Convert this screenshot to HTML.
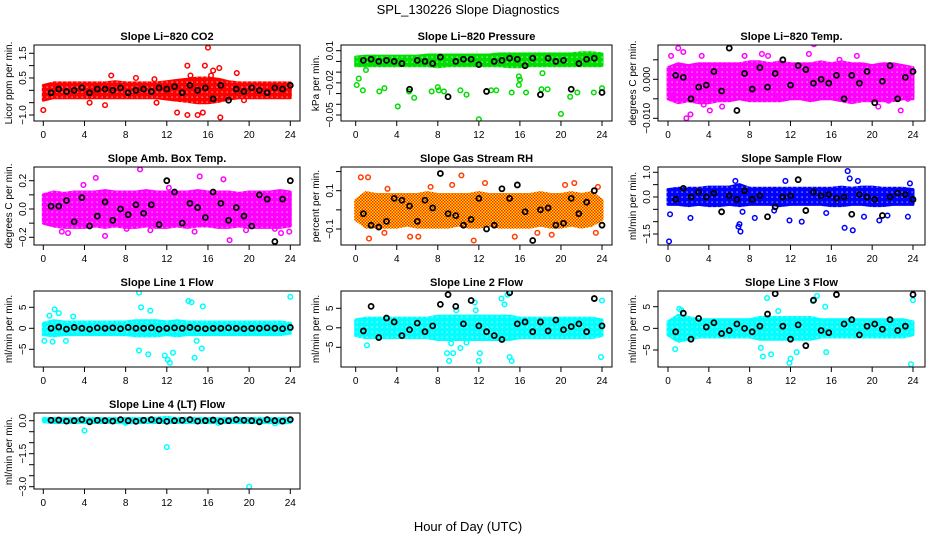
<!DOCTYPE html>
<html><head><meta charset="utf-8">
<style>
html,body{margin:0;padding:0;background:#fff;}
svg{display:block;font-family:"Liberation Sans",Arial,sans-serif;}
</style></head>
<body>
<svg id="chart" width="936" height="540" viewBox="0 0 936 540">
<defs id="defs">
<pattern id="rhpat" width="3" height="3" patternUnits="userSpaceOnUse">
<rect width="3" height="3" fill="#ffe600"/>
<rect width="1.5" height="1.5" fill="#ff2000"/>
<rect x="1.5" y="1.5" width="1.5" height="1.5" fill="#ff2000"/>
</pattern>
</defs>
<text x="468" y="14" text-anchor="middle" font-size="13">SPL_130226  Slope Diagnostics</text>
<text x="468" y="531" text-anchor="middle" font-size="13">Hour of Day (UTC)</text>
</svg>
<script>
// ---- shared data ----
const blackTimes = [0.75,1.5,2.25,3,3.75,4.5,5.25,6,6.75,7.5,8.25,9,9.75,10.5,11.25,12,12.75,13.5,14.25,15,15.75,16.5,17.25,18,18.75,19.5,20.25,21,21.75,22.5,23.25,24];
const bandHours = [0,1,2,3,4,5,6,7,8,9,10,11,12,13,14,15,16,17,18,19,20,21,22,23,24];
const xTicks = [0,4,8,12,16,20,24];

// ---- panel 1: CO2 ----
const co2Black = [-0.1,0.05,-0.05,0,0.1,-0.1,0.05,0.05,0,0.1,-0.1,0.0,0.05,-0.05,0.1,0.05,0.15,-0.1,0.2,0.0,0.1,-0.35,0.2,-0.4,0.05,-0.05,0.1,0.0,-0.1,0.1,0.05,0.2];
const co2Lo = [-0.4,-0.3,-0.3,-0.3,-0.3,-0.3,-0.3,-0.3,-0.3,-0.3,-0.3,-0.3,-0.35,-0.4,-0.45,-0.5,-0.5,-0.45,-0.35,-0.3,-0.3,-0.3,-0.3,-0.3,-0.3];
const co2Hi = [0.2,0.3,0.3,0.3,0.3,0.3,0.3,0.35,0.3,0.3,0.3,0.3,0.35,0.4,0.45,0.5,0.5,0.45,0.35,0.3,0.3,0.3,0.3,0.3,0.3];
const co2OutX = [0,6.6,9,10.8,11,13,14,14,14.3,15,15.5,15.7,16,16.3,16.5,17.1,17.2,18.8,6,4.5,19.5];
const co2OutY = [-0.8,0.6,0.5,0.45,-0.5,-0.9,1.0,-1.0,0.6,-1.0,-0.9,1.0,1.73,0.6,0.8,0.9,-1.1,0.7,-0.6,-0.5,-0.4];
// ---- panel 2: pressure ----
const prBlack = [0.001,0.002,0.000,0.001,0.000,-0.002,-0.026,0.001,0.000,-0.002,0.004,-0.033,0.000,0.002,0.002,-0.003,-0.028,0.000,0.001,0.003,0.002,-0.004,0.003,-0.031,0.003,0.000,0.001,-0.026,-0.002,0.002,0.003,-0.029];
const prLo = [-0.004,-0.004,-0.004,-0.004,-0.004,-0.004,-0.004,-0.004,-0.005,-0.004,-0.004,-0.004,-0.004,-0.004,-0.004,-0.005,-0.005,-0.004,-0.004,-0.004,-0.004,-0.004,-0.004,-0.004,-0.004];
const prHi = [0.004,0.005,0.005,0.005,0.005,0.005,0.005,0.006,0.006,0.006,0.006,0.006,0.006,0.006,0.007,0.007,0.007,0.007,0.007,0.007,0.007,0.007,0.008,0.008,0.007];
const prOutX = [0.1,0.3,0.7,2.3,2.8,4.1,5.2,5.7,7.4,8,8.1,8.6,10.2,10.8,12,13.2,13.7,15.2,15.9,16.6,18.1,18.7,20,20.9,21.6,23.2,24,1,15.9,16,18.2];
const prOutY = [-0.022,-0.016,-0.027,-0.028,-0.025,-0.042,-0.028,-0.034,-0.028,-0.024,-0.027,-0.028,-0.027,-0.031,-0.054,-0.027,-0.027,-0.029,-0.022,-0.029,-0.026,-0.026,-0.049,-0.033,-0.029,-0.029,-0.025,-0.008,-0.014,-0.017,-0.011];
// ---- panel 3: Li-820 temp ----
const ltBlack = [0.001,0.0005,-0.005,-0.002,-0.0015,0.002,-0.003,0.008,-0.008,0.0015,-0.0025,0.003,-0.002,0.0015,0.005,-0.0015,0.0035,0.0025,-0.001,0.0,-0.001,0.001,-0.005,0.001,-0.001,0.002,-0.006,-0.0005,0.0035,-0.005,0.0005,0.002];
const ltLo = [-0.005,-0.006,-0.0055,-0.006,-0.006,-0.0055,-0.0055,-0.005,-0.0055,-0.0055,-0.0055,-0.0055,-0.005,-0.005,-0.0055,-0.005,-0.005,-0.0055,-0.006,-0.0055,-0.0055,-0.0055,-0.0055,-0.005,-0.005];
const ltHi = [0.003,0.004,0.0035,0.004,0.004,0.004,0.004,0.004,0.0045,0.0045,0.004,0.0045,0.004,0.004,0.004,0.0045,0.004,0.0045,0.004,0.004,0.0035,0.004,0.004,0.0035,0.003];
const ltOutX = [1,1.5,0.3,3.3,14.3,9.8,7.5,1.8,2.2,4.1,5.3,22.8,18.5,20.6,3.5,10.5,13.8,16.8,21.6,0.5,9.2,23.5];
const ltOutY = [0.008,0.007,0.006,0.006,0.009,0.006,0.006,-0.010,-0.009,-0.008,-0.007,-0.008,0.006,-0.007,-0.0065,-0.005,0.0065,0.005,-0.0055,-0.004,0.0065,-0.005];
// ---- panel 4: amb box temp ----
const abBlack = [0.02,0.02,0.06,-0.09,0.08,-0.12,-0.05,0.05,-0.08,0.0,-0.04,0.03,-0.03,0.03,-0.11,0.2,0.12,-0.1,0.04,0.01,-0.06,0.12,0.04,-0.08,0.01,-0.05,-0.12,0.1,0.07,-0.23,0.07,0.2];
const abLo = [-0.1,-0.12,-0.13,-0.13,-0.13,-0.12,-0.13,-0.12,-0.13,-0.13,-0.12,-0.13,-0.13,-0.12,-0.13,-0.12,-0.12,-0.13,-0.13,-0.12,-0.13,-0.13,-0.13,-0.13,-0.12];
const abHi = [0.1,0.12,0.11,0.12,0.12,0.12,0.13,0.12,0.12,0.12,0.13,0.12,0.12,0.12,0.12,0.13,0.12,0.12,0.12,0.11,0.12,0.12,0.12,0.13,0.12];
const abOutX = [5.1,9.4,15.2,17.5,2.4,1.8,6.0,8.1,14.7,18.1,22.5,23.9,23.1,12.2,19.7,3.9,10.4];
const abOutY = [0.22,0.28,0.23,0.21,-0.17,-0.16,-0.19,-0.14,-0.16,-0.22,-0.14,-0.16,-0.17,0.15,-0.15,0.17,-0.15];
// ---- panel 5: gas stream RH ----
const rhBlack = [-0.02,-0.08,-0.09,-0.06,0.06,0.05,0.02,-0.06,0.05,0.01,0.19,-0.02,-0.03,-0.08,-0.05,0.06,-0.1,-0.08,0.11,0.06,0.13,-0.01,-0.16,0.0,0.01,-0.08,-0.07,0.06,-0.02,0.04,0.1,-0.08];
const rhLo = [-0.05,-0.09,-0.09,-0.09,-0.09,-0.08,-0.09,-0.09,-0.09,-0.09,-0.08,-0.09,-0.09,-0.08,-0.09,-0.09,-0.09,-0.09,-0.08,-0.09,-0.09,-0.08,-0.09,-0.08,-0.05];
const rhHi = [0.05,0.09,0.08,0.08,0.08,0.08,0.08,0.09,0.08,0.08,0.08,0.08,0.09,0.08,0.08,0.08,0.08,0.08,0.09,0.08,0.08,0.09,0.08,0.09,0.05];
const rhOutX = [0.5,1.2,1.3,2.8,5.3,6.1,9.4,10.3,11.5,12.6,15.5,17.7,19.1,20.4,21.3,23.4,23.6,3.1,7.3];
const rhOutY = [0.17,0.17,-0.15,-0.12,-0.14,-0.14,0.13,0.18,-0.16,0.14,-0.14,-0.12,-0.13,0.13,0.14,-0.12,0.12,0.11,0.12];
// ---- panel 6: sample flow ----
const sfBlack = [-0.1,0.35,0.0,0.2,0.0,0.15,-0.6,0.05,-0.1,0.25,-0.1,0.05,-0.8,-0.4,0.0,0.05,0.7,-0.55,0.2,0.05,0.1,-0.05,0.0,-0.7,0.1,0.0,-0.1,-0.75,0.0,0.15,0.1,-0.1];
const sfLo = [-0.3,-0.3,-0.35,-0.3,-0.35,-0.35,-0.3,-0.35,-0.3,-0.3,-0.3,-0.35,-0.3,-0.3,-0.3,-0.3,-0.35,-0.35,-0.3,-0.3,-0.35,-0.35,-0.3,-0.3,-0.3];
const sfHi = [0.3,0.35,0.35,0.35,0.4,0.4,0.4,0.5,0.35,0.35,0.35,0.35,0.35,0.35,0.35,0.35,0.35,0.4,0.35,0.4,0.4,0.35,0.35,0.35,0.3];
const sfOutX = [0.1,0.2,2.2,7,7.1,6.9,7.3,8.5,10.4,11.9,13.1,15.5,17.3,17.6,18.1,17.8,18.6,19.2,20.7,21.5,23.5,23.7,6.6,11.5];
const sfOutY = [-1.8,-0.7,-0.85,-1.1,-1.4,-1.2,-0.6,-0.85,-0.55,-0.95,-1.0,-0.65,-1.25,1.05,-1.35,0.75,0.65,-0.8,-0.95,-0.75,-0.8,0.55,0.65,0.65];
// ---- panel 7: line 1 flow ----
const l1Black = [0,0.3,-0.2,0.2,0,-0.2,0.1,0,0.1,-0.1,0.2,0,0,0.1,-0.2,0,0.1,0,0.2,0,-0.1,0,0,0.1,0,-0.1,0,0,0.1,0,-0.1,0.2];
const l1Lo = [-1.5,-1.8,-1.5,-1.5,-1.5,-1.5,-1.5,-1.5,-1.5,-1.8,-1.8,-1.8,-1.5,-1.8,-1.5,-1.5,-1.5,-1.5,-1.5,-1.5,-1.5,-1.5,-1.5,-1.5,-1.2];
const l1Hi = [1.2,1.8,1.5,1.5,1.5,1.5,1.5,1.5,1.5,1.8,1.8,1.8,1.5,1.8,1.5,1.5,1.5,1.5,1.5,1.5,1.5,1.5,1.5,1.5,1.2];
const l1OutX = [0.1,0.9,1.1,1.5,0.6,2.2,9.3,9.5,9.3,10.2,10.4,12.1,12.3,11.8,12.6,14.1,14.4,14.9,14.7,15.5,15.4,24,2.9];
const l1OutY = [-3,-3.2,4.5,3.6,3,-3,8.5,5,-5.3,-6.2,4.2,-7.5,-8.2,-6.5,-5.8,6.5,6.2,-3,-7,5.2,-4.8,7.5,2.8];
// ---- panel 8: line 2 flow ----
const l2Black = [-0.8,5.5,-2.5,2.5,1.5,-2,-0.5,1.2,-1,0.5,6,8.5,5.5,1,7,0.5,-1,-2,-3,9,1,1.5,-1,1.5,-0.8,2,-0.5,0.3,1,-1,7.5,0.5];
const l2Lo = [-2,-2.5,-2.5,-2.5,-2.5,-2.5,-2.5,-2.5,-3,-3,-3,-3,-3,-3,-3,-3,-2.5,-2.5,-2.5,-2.5,-2.5,-2.5,-2.5,-2.5,-2];
const l2Hi = [2,2.5,2.5,2.5,2.5,2.5,2.5,2.5,3,3,3,3,3,3,3,3,2.5,2.5,2.5,2.5,2.5,2.5,2.5,2.5,2];
const l2OutX = [1.1,8.9,9.1,9.3,9.5,10.2,10.8,11.6,12,12.1,11.7,14.2,14.5,15,15.2,14.8,24,23.9,9.8];
const l2OutY = [-4.5,-6.5,-8.5,-4,-6.5,-5.2,-3.8,6.5,-8.5,-6.5,4.5,7.5,6,-7.5,-8.5,8.5,7,-7.5,4.5];
// ---- panel 9: line 3 flow ----
const l3Black = [-0.8,3.5,-2.5,2.3,0.3,1.3,-1.2,-0.5,1,0,-0.8,0.5,3.3,8,0.5,-2.5,0.8,-4,6.5,-0.5,-1,7.8,1,2,-1.5,0.5,1,-0.2,2,-0.5,0.5,7.8];
const l3Lo = [-1.5,-3,-2.5,-2,-2,-2,-2,-2,-2,-2.5,-2.5,-2.5,-2.5,-2.5,-2.5,-2,-2,-2,-2,-2,-2,-2,-2,-2,-1.5];
const l3Hi = [1.5,3,2.5,2,2,2,2,2,2,2.5,2.5,2.5,2.5,2.5,2.5,2,2,2,2,2,2,2,2,2,1.5];
const l3OutX = [0.7,1.1,1.3,9.1,9.3,9.7,10.1,11.9,12,12.6,14.2,14.6,15.5,15.4,24,23.8,10.8];
const l3OutY = [-4.8,4.5,4.2,-4.5,-6.5,7,-6,-8,-7,-5.5,6.3,7.5,-5.5,5,6.5,-8.3,4];
// ---- panel 10: line 4 (LT) flow ----
const l4Black = [0.02,0.03,-0.02,0.0,0.05,-0.05,0.02,0.0,-0.02,0.05,0.0,-0.03,0.02,0.05,0.0,-0.03,0.0,0.02,0.05,-0.02,0.0,0.03,-0.03,0.0,0.05,0.02,0.0,-0.05,0.05,0.0,-0.02,0.05];
const l4Lo = [-0.05,-0.08,-0.08,-0.08,-0.08,-0.08,-0.08,-0.08,-0.1,-0.08,-0.08,-0.08,-0.08,-0.08,-0.08,-0.08,-0.08,-0.08,-0.08,-0.08,-0.08,-0.08,-0.08,-0.1,-0.08];
const l4Hi = [0.1,0.1,0.1,0.1,0.1,0.1,0.1,0.1,0.1,0.1,0.1,0.12,0.15,0.1,0.1,0.1,0.1,0.1,0.1,0.1,0.1,0.1,0.1,0.1,0.1];
const l4OutX = [4,12,20,8,17,22.5];
const l4OutY = [-0.45,-1.2,-3.0,-0.1,-0.1,-0.12];

// ---- layout (axis calibration) ----
const colBox = [[34,300,43.3,290.3],[341,612,355.7,602],[658,925,668,913]];
const rowBox = [[45,121],[167,245],[291,367],[413,489]];
const panels = [
 {name:'co2',title:'Slope Li\u2212820 CO2',ylab:'Licor ppm per min.',col:0,row:0,cal:[1.5,53.3,-1.0,115],ticks:[-1,-0.5,0,0.5,1,1.5],labels:{'1.5':'1.5','0.5':'0.5','-1':'\u22121.0'},color:'#ff0000',black:co2Black,lo:co2Lo,hi:co2Hi,ox:co2OutX,oy:co2OutY},
 {name:'pressure',title:'Slope Li\u2212820 Pressure',ylab:'kPa per min.',col:1,row:0,cal:[0.01,50.7,-0.05,115],ticks:[0.01,0,-0.01,-0.02,-0.03,-0.04,-0.05],labels:{'0.01':'0.01','-0.02':'\u22120.02','-0.05':'\u22120.05'},color:'#00dd00',black:prBlack,lo:prLo,hi:prHi,ox:prOutX,oy:prOutY},
 {name:'li820-temp',title:'Slope Li\u2212820 Temp.',ylab:'degrees C per min.',col:2,row:0,cal:[0,79.3,-0.01,118.3],ticks:[0.005,0,-0.005,-0.01],labels:{'0':'0.000','-0.01':'\u22120.010'},color:'#ff00ff',black:ltBlack,lo:ltLo,hi:ltHi,ox:ltOutX,oy:ltOutY},
 {name:'amb-box-temp',title:'Slope Amb. Box Temp.',ylab:'degrees C per min.',col:0,row:1,cal:[0.2,180.7,-0.2,237.3],ticks:[-0.2,-0.1,0,0.1,0.2],labels:{'0.2':'0.2','0':'0.0','-0.2':'\u22120.2'},color:'#ff00ff',black:abBlack,lo:abLo,hi:abHi,ox:abOutX,oy:abOutY},
 {name:'gas-stream-rh',title:'Slope Gas Stream RH',ylab:'percent per min.',col:1,row:1,cal:[0.1,190.7,-0.1,229],ticks:[0.2,0.1,0,-0.1],labels:{'0.1':'0.1','-0.1':'\u22120.1'},color:'#ff4000',rh:true,black:rhBlack,lo:rhLo,hi:rhHi,ox:rhOutX,oy:rhOutY},
 {name:'sample-flow',title:'Slope Sample Flow',ylab:'ml/min per min.',col:2,row:1,cal:[1.0,172.3,-1.5,234],ticks:[1,0.5,0,-0.5,-1,-1.5],labels:{'1':'1.0','0':'0.0','-1.5':'\u22121.5'},color:'#0000ff',black:sfBlack,lo:sfLo,hi:sfHi,ox:sfOutX,oy:sfOutY},
 {name:'line1-flow',title:'Slope Line 1 Flow',ylab:'ml/min per min.',col:0,row:2,cal:[5,307.3,-5,349.3],ticks:[5,0,-5],labels:{'5':'5','0':'0','-5':'\u22125'},color:'#00ffff',black:l1Black,lo:l1Lo,hi:l1Hi,ox:l1OutX,oy:l1OutY},
 {name:'line2-flow',title:'Slope Line 2 Flow',ylab:'ml/min per min.',col:1,row:2,cal:[5,308.3,-5,347.3],ticks:[5,0,-5],labels:{'5':'5','0':'0','-5':'\u22125'},color:'#00ffff',black:l2Black,lo:l2Lo,hi:l2Hi,ox:l2OutX,oy:l2OutY},
 {name:'line3-flow',title:'Slope Line 3 Flow',ylab:'ml/min per min.',col:2,row:2,cal:[5,306.7,-5,350],ticks:[5,0,-5],labels:{'5':'5','0':'0','-5':'\u22125'},color:'#00ffff',black:l3Black,lo:l3Lo,hi:l3Hi,ox:l3OutX,oy:l3OutY},
 {name:'line4-flow',title:'Slope Line 4 (LT) Flow',ylab:'ml/min per min.',col:0,row:3,cal:[0,420.7,-3,486.7],ticks:[0,-0.5,-1,-1.5,-2,-2.5,-3],labels:{'0':'0.0','-1.5':'\u22121.5','-3':'\u22123.0'},color:'#00ffff',black:l4Black,lo:l4Lo,hi:l4Hi,ox:l4OutX,oy:l4OutY}
];

const NS = 'http://www.w3.org/2000/svg';
const svg = document.getElementById('chart');
const defs = document.getElementById('defs');
function mk(tag, attrs, parent){
  const e = document.createElementNS(NS, tag);
  for (const k in attrs) e.setAttribute(k, attrs[k]);
  parent.appendChild(e);
  return e;
}

panels.forEach(p => {
  const [bl, br, x0, x24] = colBox[p.col];
  const [bt, bb] = rowBox[p.row];
  const xs = h => x0 + (x24 - x0) * h / 24;
  const [v1, p1, v2, p2] = p.cal;
  const ys = v => p1 + (v - v1) * (p2 - p1) / (v2 - v1);

  // speckled pattern that mimics overlapping open circles
  let fillRef = 'url(#rhpat)';
  if (!p.rh) {
    const pid = 'pat-' + p.name;
    const pat = mk('pattern', {id: pid, width: 5, height: 5, patternUnits: 'userSpaceOnUse'}, defs);
    mk('rect', {width: 5, height: 5, fill: p.color}, pat);
    mk('rect', {x: 1.5, y: 1.5, width: 1.2, height: 1.2, fill: '#ffffff', opacity: 0.75}, pat);
    fillRef = 'url(#' + pid + ')';
  }

  const g = mk('g', {}, svg);
  
  

  const clipId = 'clip-' + p.name;
  const cp = mk('clipPath', {id: clipId}, g);
  mk('rect', {x: bl, y: bt, width: br - bl, height: bb - bt}, cp);

  const t = mk('text', {x: (bl + br) / 2, y: bt - 5, 'text-anchor': 'middle', 'font-size': 11, 'font-weight': 'bold'}, g);
  t.textContent = p.title;
  
  

  const plot = mk('g', {'clip-path': 'url(#' + clipId + ')'}, g);
  
  

  // dense band
  let d = '';
  bandHours.forEach((h, i) => { d += (i ? 'L' : 'M') + xs(h).toFixed(1) + ',' + ys(p.hi[i]).toFixed(1); });
  for (let i = bandHours.length - 1; i >= 0; i--) d += 'L' + xs(bandHours[i]).toFixed(1) + ',' + ys(p.lo[i]).toFixed(1);
  d += 'Z';
  const band = mk('path', {d: d, fill: fillRef, stroke: fillRef, 'stroke-width': 3, 'stroke-linejoin': 'round'}, plot);
  
  

  // colored outliers
  p.ox.forEach((h, i) => {
    const c = mk('circle', {cx: xs(h), cy: ys(p.oy[i]), r: 2.3, fill: 'none', stroke: p.color, 'stroke-width': 1.5}, plot);
    
    
  });
  // black points
  blackTimes.forEach((h, i) => {
    const c = mk('circle', {cx: xs(h), cy: ys(p.black[i]), r: 2.5, fill: 'none', stroke: '#000', 'stroke-width': 1.8}, plot);
    
    
  });

  // box
  const box = mk('rect', {x: bl, y: bt, width: br - bl, height: bb - bt, fill: 'none', stroke: '#000', 'stroke-width': 1}, g);
  
  

  // x axis
  const xa = mk('g', {}, g);
  
  
  xTicks.forEach(h => {
    mk('line', {x1: xs(h), x2: xs(h), y1: bb, y2: bb + 5, stroke: '#000'}, xa);
    const tl = mk('text', {x: xs(h), y: bb + 17, 'text-anchor': 'middle', 'font-size': 10}, xa);
    tl.textContent = h;
  });
  // y axis
  const ya = mk('g', {}, g);
  
  
  p.ticks.forEach(v => {
    const y = ys(v);
    mk('line', {x1: bl - 5, x2: bl, y1: y, y2: y, stroke: '#000'}, ya);
    const key = String(v);
    if (p.labels[key] !== undefined) {
      const tl = mk('text', {x: 0, y: 0, 'text-anchor': 'middle', 'font-size': 10, transform: 'translate(' + (bl - 8) + ',' + y + ') rotate(-90)'}, ya);
      tl.textContent = p.labels[key];
    }
  });
  const yt = mk('text', {x: 0, y: 0, 'text-anchor': 'middle', 'font-size': 10, transform: 'translate(' + (bl - 22) + ',' + ((bt + bb) / 2) + ') rotate(-90)'}, g);
  yt.textContent = p.ylab;
  
  
});
</script>
</body></html>
